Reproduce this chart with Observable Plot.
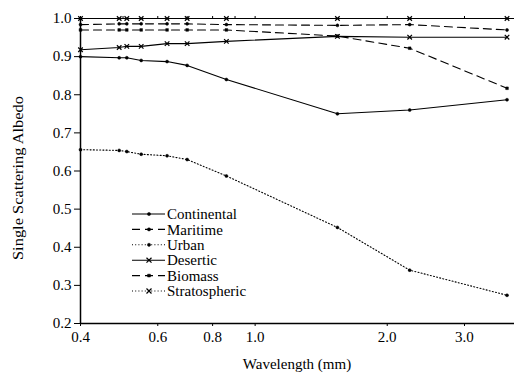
<!DOCTYPE html>
<html><head><meta charset="utf-8">
<script src="https://cdn.jsdelivr.net/npm/d3@7"></script>
<script src="https://cdn.jsdelivr.net/npm/@observablehq/plot@0.6"></script>
<style>body{margin:0;background:#fff}</style>
</head><body><div id="chart"></div>
<script>
const wavelengths = [0.4, 0.49, 0.51, 0.55, 0.63, 0.7, 0.86, 1.54, 2.25, 3.75];
const continental = [0.900, 0.897, 0.897, 0.890, 0.887, 0.877, 0.840, 0.750, 0.760, 0.787];
const maritime = [0.984, 0.986, 0.986, 0.986, 0.986, 0.986, 0.984, 0.982, 0.984, 0.970];
const urban = [0.656, 0.654, 0.651, 0.644, 0.640, 0.630, 0.587, 0.452, 0.340, 0.274];
const desertic = [0.918, 0.924, 0.927, 0.927, 0.934, 0.934, 0.940, 0.953, 0.951, 0.951];
const biomass = [0.970, 0.970, 0.970, 0.970, 0.970, 0.970, 0.970, 0.954, 0.922, 0.817];
const stratospheric = [1.0, 1.0, 1.0, 1.0, 1.0, 1.0, 1.0, 1.0, 1.0, 1.0];
const seriesNames = ["Continental", "Maritime", "Urban", "Desertic", "Biomass", "Stratospheric"];
const xTicks = [0.4, 0.6, 0.8, 1.0, 2.0, 3.0];
const xMinorTicks = [0.4, 0.5, 0.6, 0.7, 0.8, 0.9, 1.0, 2.0, 3.0];
const yTicks = [0.2, 0.3, 0.4, 0.5, 0.6, 0.7, 0.8, 0.9, 1.0];
const xLabel = "Wavelength (mm)";
const yLabel = "Single Scattering Albedo";

const seriesValues = [continental, maritime, urban, desertic, biomass, stratospheric];
const styles = {
  Continental: {dash: null, symbol: "circle"},
  Maritime: {dash: "8,5", symbol: "circle"},
  Urban: {dash: "1,2.2", symbol: "circle"},
  Desertic: {dash: null, symbol: "times"},
  Biomass: {dash: "8,5", symbol: "square"},
  Stratospheric: {dash: "1,2.2", symbol: "times"}
};
const table = seriesNames.flatMap((name, i) =>
  seriesValues[i].map((v, j) => ({series: name, wl: wavelengths[j], ssa: v})));

const seriesMarks = seriesNames.flatMap(name => {
  const d = table.filter(r => r.series === name);
  const st = styles[name];
  const strokeSym = st.symbol === "times";
  return [
    Plot.line(d, {x: "wl", y: "ssa", stroke: "black", strokeWidth: 1.1, strokeDasharray: st.dash}),
    Plot.dot(d, {x: "wl", y: "ssa", symbol: st.symbol, r: strokeSym ? 2.2 : 1.5,
      fill: strokeSym ? "none" : "black", stroke: "black", strokeWidth: strokeSym ? 1.2 : 0.5})
  ];
});

const font = "Liberation Serif";
const chart = Plot.plot({
  width: 514, height: 376,
  marginLeft: 80, marginRight: 0, marginTop: 18, marginBottom: 53,
  style: {fontFamily: font, fontSize: "15px", background: "white", color: "black"},
  x: {type: "log", domain: [0.4, 3.9]},
  y: {domain: [0.2, 1.0]},
  marks: [
    Plot.axisY({ticks: yTicks, tickFormat: d => d.toFixed(1), tickSize: 6, tickPadding: 3, label: null}),
    Plot.axisX({ticks: xTicks, tickFormat: d => d.toFixed(1), tickSize: 3, tickPadding: 5, label: null}),
    Plot.axisX({anchor: "top", ticks: xMinorTicks, tickSize: 3, tickFormat: () => "", label: null}),
    Plot.ruleX([0.4], {stroke: "black", strokeWidth: 1.5}),
    Plot.ruleY([0.2], {stroke: "black", strokeWidth: 1.5}),
    Plot.ruleY([1.0], {stroke: "black", strokeWidth: 1.2}),
    ...seriesMarks
  ]
});
document.getElementById("chart").appendChild(chart);

const svg = d3.select(chart);
svg.append("text").attr("x", 297).attr("y", 369).attr("text-anchor", "middle")
  .attr("font-family", font).attr("font-size", 15).attr("fill", "black").text(xLabel);
svg.append("text").attr("transform", "translate(23,178) rotate(-90)").attr("text-anchor", "middle")
  .attr("font-family", font).attr("font-size", 15).attr("fill", "black")
  .attr("textLength", 164).attr("lengthAdjust", "spacingAndGlyphs").text(yLabel);

const leg = svg.append("g");
seriesNames.forEach((name, i) => {
  const y = 214 + i * 15.4;
  const st = styles[name];
  leg.append("line").attr("x1", 132).attr("x2", 165).attr("y1", y).attr("y2", y)
    .attr("stroke", "black").attr("stroke-width", 1.1).attr("stroke-dasharray", st.dash);
  const sym = d3.symbol(st.symbol === "times" ? d3.symbolTimes : st.symbol === "square" ? d3.symbolSquare : d3.symbolCircle,
    st.symbol === "times" ? 18 : 8);
  leg.append("path").attr("d", sym()).attr("transform", `translate(149,${y})`)
    .attr("fill", st.symbol === "times" ? "none" : "black").attr("stroke", "black")
    .attr("stroke-width", st.symbol === "times" ? 1.2 : 0.5);
  leg.append("text").attr("x", 167).attr("y", y).attr("dy", "0.35em").attr("text-anchor", "start")
    .attr("font-family", font).attr("font-size", 15).attr("fill", "black").text(name);
});
</script>
</body></html>
